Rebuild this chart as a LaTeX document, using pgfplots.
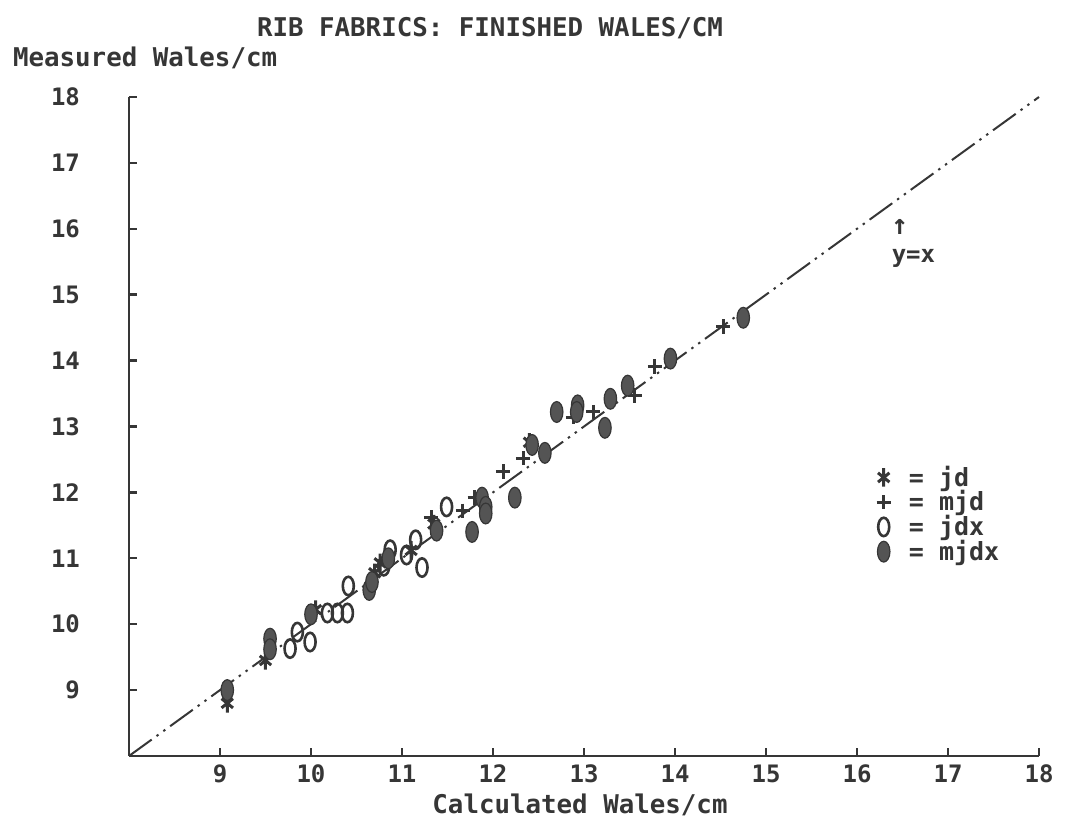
\documentclass[border=0pt]{standalone}
\usepackage{fontspec}
\setmainfont{DejaVu Sans Mono}
\usepackage{pgfplots}
\pgfplotsset{compat=1.18}
\definecolor{ink}{HTML}{363636}

\begin{document}
\begin{tikzpicture}[font=\bfseries\fontsize{12.9}{14}\selectfont, text=ink]
\useasboundingbox (-64.5pt,-33.5pt) rectangle (471pt,378pt);
\begin{axis}[
  at={(0pt,0pt)}, anchor=south west,
  scale only axis, width=455pt, height=329.5pt,
  xmin=8, xmax=18, ymin=8, ymax=18,
  axis x line=bottom, axis y line=left,
  axis line style={ink, line width=1.3pt, -},
  xtick={9,10,...,18}, ytick={9,10,...,18},
  tick align=inside, major tick length=4pt,
  tick style={ink, line width=1.2pt},
  /pgf/number format/assume math mode=true,
  ticklabel style={font=\bfseries\fontsize{12}{12}\selectfont, text=ink},
  yticklabel style={xshift=-21pt},
  xticklabel style={yshift=-1pt},
  clip=false,
  legend style={at={(axis cs:16.21,12.47)}, anchor=north west, draw=none, fill=none,
    inner sep=0pt, row sep=-3.3pt, font=\bfseries\fontsize{12.5}{13}\selectfont, text=ink,
    /tikz/every odd column/.append style={column sep=7pt}},
  legend cell align=left,
]
\addplot[forget plot, ink, line width=1pt, dash pattern=on 14pt off 3pt on 1.2pt off 3pt on 1.2pt off 3pt]
  coordinates {(8,8) (18,18)};
% jd
\addplot[only marks, mark=asterisk, mark size=3.3pt, mark options={ink, line width=1.5pt, yscale=1.4}]
  coordinates {(9.08,8.80) (9.50,9.45) (10.05,10.22) (10.70,10.78) (10.76,10.93)
  (11.10,11.12) (11.35,11.52) (12.40,12.76)};
% mjd
\addplot[only marks, mark=+, mark size=3.6pt, mark options={ink, line width=1.5pt}]
  coordinates {(11.32,11.62) (11.67,11.72) (11.80,11.92) (12.11,12.32) (12.33,12.52)
  (12.88,13.14) (13.10,13.22) (13.56,13.47) (13.78,13.91) (14.53,14.52)};
% jdx
\addplot[only marks, mark=o, mark size=4.6pt, mark options={ink, line width=1.3pt, xscale=0.6}]
  coordinates {(9.77,9.63) (9.85,9.88) (9.99,9.73) (10.18,10.17) (10.29,10.17)
  (10.40,10.17) (10.41,10.58) (10.87,11.13) (10.80,10.88) (11.05,11.05)
  (11.15,11.28) (11.22,10.86) (11.49,11.78)};
% mjdx
\addplot[only marks, mark=*, mark size=5.2pt, mark options={draw=ink, fill=ink!85, line width=0.6pt, xscale=0.6}]
  coordinates {(9.08,9.00) (9.55,9.78) (9.55,9.62) (10.00,10.15) (10.64,10.52)
  (10.67,10.64) (10.85,11.00) (11.38,11.42) (11.77,11.40) (11.88,11.92)
  (11.92,11.78) (11.92,11.68) (12.24,11.92) (12.43,12.72) (12.57,12.60)
  (12.70,13.22) (12.93,13.32) (12.92,13.22) (13.23,12.98) (13.29,13.42)
  (13.48,13.62) (13.95,14.03) (14.75,14.65)};
\legend{= jd, = mjd, = jdx, = mjdx}
\node[font=\bfseries\fontsize{14}{14}\selectfont] at (axis cs:16.47,16.03) {↑};
\node[font=\bfseries\fontsize{12}{12}\selectfont] at (axis cs:16.62,15.55) {y=x};
\end{axis}
\node at (180.5pt,364pt) {RIB FABRICS: FINISHED WALES/CM};
\node[anchor=west] at (-61.5pt,349pt) {Measured Wales/cm};
\node at (225.5pt,-24.5pt) {Calculated Wales/cm};
\end{tikzpicture}
\end{document}
